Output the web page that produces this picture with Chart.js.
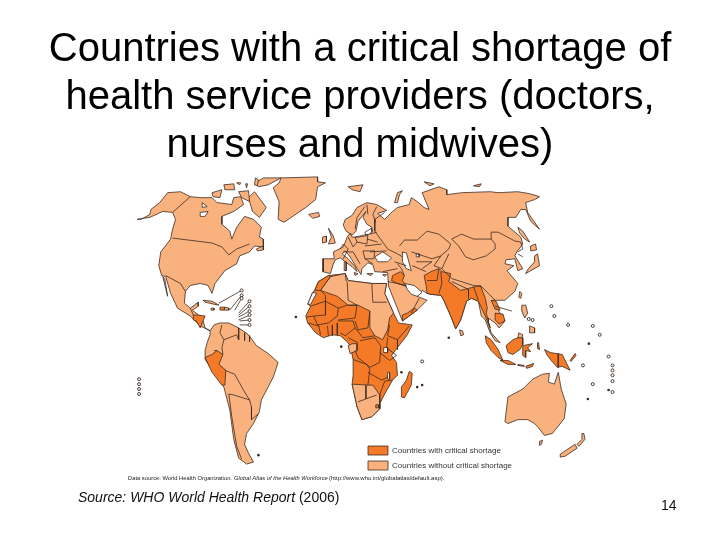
<!DOCTYPE html>
<html><head><meta charset="utf-8">
<script src="https://cdn.jsdelivr.net/npm/chart.js@4"></script>
<style>html,body{margin:0;padding:0;background:#fff}canvas{display:block}</style>
</head><body><canvas id="c" width="720" height="540"></canvas>
<script>
const titleLines=["Countries with a critical shortage of","health service providers (doctors,","nurses and midwives)"];
const legendCritical="Countries with critical shortage";
const legendOther="Countries without critical shortage";
const sourcePlain=["Source: WHO World Health Report "," (2006)"];
const pageNumber="14";
const creditParts=["Data source: World Health Organization.","Global Atlas of the Health Workforce","(http://www.who.int/globalatlas/default.asp)."];

// Map outlines, in map units
const northAmerica=[[134,220],[138,220],[147,215],[148,210],[157,203],[165,193],[178,192],[188,197],[198,198],[210,198],[215,203],[230,205],[232,198],[239,197],[242,205],[232,212],[220,217],[220,225],[228,232],[230,240],[235,228],[243,217],[252,220],[260,228],[258,238],[262,240],[262,248],[253,247],[248,253],[238,257],[235,265],[223,272],[213,285],[210,295],[206,287],[198,285],[188,287],[183,293],[182,305],[188,310],[196,304],[196,308],[190,312],[200,320],[203,330],[208,333],[198,328],[188,318],[175,310],[168,295],[163,278],[159,277],[156,267],[158,253],[168,240],[170,230],[173,220],[170,213],[160,212],[147,218],[134,220]];
const baja=[[160,278],[162,280],[165,298],[163,290],[160,278]];
const arcticIslands=[[[247,198],[253,192],[265,208],[258,218],[251,212],[247,198]],[[210,193],[220,190],[218,198],[211,197],[210,193]],[[222,185],[232,184],[233,190],[223,190],[222,185]],[[262,178],[280,178],[267,185],[257,187],[254,183],[262,178]],[[237,192],[247,191],[248,202],[240,198],[237,192]],[[254,178],[257,180],[256,186],[253,185],[254,178]],[[244,184],[246,184],[245,188],[244,184]],[[235,183],[239,183],[238,185],[235,183]],[[255,250],[262,247],[262,251],[256,252],[255,250]],[[348,187],[363,185],[360,192],[352,190],[348,187]],[[425,182],[435,184],[431,186],[425,182]],[[475,186],[483,184],[481,187],[475,186]],[[395,203],[398,193],[403,191],[400,195],[398,203],[395,203]],[[322,238],[326,237],[326,243],[322,244],[322,238]],[[328,229],[333,237],[335,244],[328,245],[331,238],[328,229]]];
const greenland=[[280,178],[317,177],[317,182],[325,183],[317,187],[315,200],[305,208],[283,223],[277,220],[278,202],[272,188],[278,183],[280,178]];
const iceland=[[308,215],[318,213],[319,217],[312,219],[308,215]];
const southAmerica=[[208,333],[212,327],[218,325],[227,325],[237,330],[247,337],[255,348],[267,356],[277,365],[272,380],[260,403],[258,415],[252,427],[245,437],[243,448],[247,457],[252,466],[245,468],[237,462],[232,443],[228,413],[222,390],[203,362],[203,353],[205,345],[208,337],[208,333]];
const eurasia=[[322,273],[322,260],[334,260],[333,253],[343,248],[347,238],[350,234],[352,238],[358,238],[365,237],[370,233],[372,228],[367,225],[363,218],[366,212],[358,222],[356,232],[352,236],[346,232],[343,226],[345,220],[352,216],[357,208],[367,203],[377,205],[387,211],[378,214],[385,220],[393,212],[398,208],[410,205],[412,198],[418,202],[425,208],[430,210],[423,193],[440,187],[448,190],[448,195],[463,193],[492,192],[500,193],[520,192],[532,194],[542,197],[537,200],[528,203],[530,213],[542,230],[533,222],[528,210],[523,210],[518,218],[510,218],[510,227],[523,238],[525,245],[519,253],[517,257],[525,270],[520,272],[517,260],[508,261],[507,265],[516,267],[509,272],[520,285],[517,293],[507,302],[495,302],[503,317],[507,323],[501,330],[497,325],[490,320],[490,325],[493,335],[502,345],[497,343],[492,335],[487,322],[483,318],[480,303],[473,300],[468,303],[462,322],[457,331],[452,318],[445,302],[442,297],[432,296],[428,295],[423,292],[418,298],[428,302],[418,312],[403,323],[395,303],[389,288],[388,274],[375,273],[373,266],[368,264],[362,270],[361,276],[356,268],[350,258],[345,252],[342,255],[348,260],[355,268],[357,273],[352,268],[345,263],[340,259],[335,261],[333,265],[330,275],[322,273]];
const japanEtc=[[[533,247],[538,245],[539,251],[533,252],[533,247]],[[540,255],[542,267],[533,272],[528,275],[530,271],[537,263],[537,257],[540,255]],[[520,228],[525,232],[532,243],[527,240],[522,234],[520,228]],[[522,293],[524,295],[523,300],[521,299],[522,293]],[[524,307],[528,307],[530,315],[527,320],[524,313],[524,307]],[[532,328],[537,330],[537,335],[532,335],[532,328]],[[461,332],[464,333],[465,337],[462,338],[461,332]],[[521,335],[525,337],[524,341],[520,340],[521,335]],[[354,274],[358,275],[355,277],[354,274]],[[344,263],[346,263],[346,272],[344,272],[344,263]],[[367,275],[373,275],[371,277],[367,275]],[[383,276],[387,276],[385,278],[383,276]],[[223,309],[227,310],[227,312],[222,312],[223,309]],[[201,302],[210,303],[217,307],[212,306],[203,304],[201,302]],[[209,310],[212,310],[212,312],[209,312],[209,310]]];
const australia=[[507,425],[510,400],[525,392],[535,382],[545,377],[552,376],[551,385],[557,387],[561,375],[564,392],[569,407],[567,422],[555,437],[547,439],[540,430],[537,427],[530,423],[520,423],[510,427],[507,425]];
const tasmania=[[542,445],[545,444],[544,448],[542,449],[542,445]];
const newZealand=[[[585,437],[587,437],[588,443],[582,450],[580,448],[585,443],[585,437]],[[578,448],[580,452],[568,460],[563,461],[563,458],[578,448]]];
const northAfricaLight=[[330,278],[345,275],[348,282],[372,285],[387,285],[385,295],[394,315],[390,320],[388,332],[383,342],[375,338],[370,330],[370,313],[358,307],[348,307],[337,298],[320,292],[330,278]];
const gabonCongo=[[348,348],[352,346],[357,346],[357,353],[350,356],[348,348]];
const southernAfrica=[[352,387],[368,388],[373,388],[380,398],[380,407],[380,412],[372,420],[362,423],[357,410],[352,387]];
const africa=[[318,283],[328,277],[345,275],[348,282],[372,285],[387,285],[385,295],[394,315],[399,325],[413,327],[408,337],[398,350],[392,358],[397,365],[398,378],[393,383],[385,397],[380,407],[380,412],[372,420],[362,423],[357,410],[352,387],[353,378],[353,362],[350,348],[347,344],[340,338],[332,337],[323,340],[315,335],[307,325],[305,318],[310,308],[307,306],[312,294],[314,292],[318,283]];
const madagascar=[[410,374],[413,376],[412,388],[405,401],[402,400],[402,390],[407,383],[410,374]];
const southAsia=[[425,277],[432,273],[440,270],[443,273],[452,275],[450,283],[462,292],[470,290],[482,287],[487,300],[489,310],[488,315],[492,330],[489,323],[487,318],[480,303],[473,300],[468,303],[462,322],[457,331],[452,318],[445,302],[442,297],[432,296],[428,295],[427,287],[425,277]];
const iraq=[[393,277],[401,273],[405,277],[403,282],[407,288],[398,285],[392,282],[393,277]];
const yemen=[[403,317],[408,315],[415,310],[418,312],[403,323],[403,317]];
const cambodiaLaos=[[[497,315],[505,316],[507,323],[501,326],[497,322],[497,315]],[[493,302],[498,303],[502,312],[497,311],[493,302]]];
const indonesia=[[[487,338],[493,342],[500,352],[505,363],[500,360],[493,353],[488,345],[487,338]],[[502,363],[510,363],[518,367],[510,367],[502,363]],[[508,348],[515,342],[520,340],[525,340],[525,347],[522,352],[515,357],[510,355],[508,348]],[[525,348],[535,346],[530,350],[533,354],[528,353],[528,360],[525,358],[525,348]],[[540,345],[541,345],[542,352],[540,351],[540,345]],[[520,367],[526,368],[526,369],[520,368],[520,367]],[[528,369],[536,366],[535,369],[529,371],[528,369]],[[547,352],[553,355],[565,357],[573,373],[565,369],[560,370],[553,362],[550,358],[547,352]],[[573,363],[578,356],[579,358],[574,364],[573,363]]];
const centralCritical=[[191,317],[196,317],[203,318],[200,325],[198,330],[194,323],[191,322],[191,317]];
const haiti=[[218,309],[223,309],[222,312],[218,312],[218,309]];
const morocco=[[314,292],[318,283],[328,277],[330,278],[320,292],[314,292]];
const peru=[[203,360],[210,357],[215,353],[221,357],[217,367],[224,373],[223,388],[220,388],[210,375],[203,360]];
const lesotho=[[376,408],[379,408],[379,411],[376,411],[376,408]];
const seas=[[[375,258],[383,253],[392,259],[388,263],[378,263],[375,258]],[[403,253],[407,254],[412,272],[407,270],[403,263],[403,253]],[[417,255],[420,255],[420,258],[417,258],[417,255]],[[405,285],[415,287],[423,294],[418,298],[412,296],[408,291],[405,285]],[[312,294],[316,295],[310,306],[307,306],[312,294]],[[200,203],[205,207],[200,208],[200,203]],[[198,213],[206,212],[203,217],[198,217],[198,213]],[[384,350],[388,350],[388,355],[384,355],[384,350]],[[388,375],[390,375],[390,382],[388,382],[388,375]],[[365,233],[372,229],[372,233],[366,237],[365,233]]];
const borderLines=[
[[188,197],[170,213]],[[170,239],[210,244],[220,248],[227,256],[235,250],[248,245]],[[163,277],[178,285],[183,293]],[[188,310],[191,317]],
[[220,327],[218,335],[222,342],[235,337],[237,342]],[[222,342],[220,350],[221,357]],[[237,330],[237,342]],[[243,335],[243,343]],[[248,338],[248,344]],[[223,373],[233,377],[243,395],[248,403],[250,410]],[[227,397],[232,398],[248,403]],[[227,397],[230,420],[235,450],[240,463]],[[250,423],[257,417]],[[250,410],[250,423]],[[212,353],[215,353]],
[[310,308],[325,303],[325,297],[320,292]],[[325,303],[325,317],[313,318]],[[325,303],[338,310],[337,318],[328,325],[317,327],[313,318]],[[338,310],[347,307],[357,307],[355,320],[338,322]],[[370,313],[368,330],[358,332],[355,323]],[[338,323],[353,323],[355,330],[345,338],[340,335]],[[355,330],[363,340],[375,338]],[[348,340],[358,345]],[[360,343],[375,340],[381,348],[380,365],[370,370],[358,360],[355,353]],[[353,362],[367,367],[370,372],[368,388]],[[368,375],[382,383],[388,380]],[[390,327],[388,338],[398,342],[410,328]],[[398,342],[398,352]],[[388,340],[387,350],[397,358]],[[380,355],[390,363],[397,358]],[[393,383],[385,384],[380,398]],[[306,319],[313,318]],[[307,325],[318,328]],[[318,327],[320,337]],[[327,328],[328,338]],[[332,327],[332,338]],[[337,325],[337,337]],
[[372,285],[373,304]],[[373,304],[387,304]],[[347,283],[348,302],[357,307]],[[345,275],[346,283]],[[366,388],[366,402],[358,405]],[[366,402],[377,398]],
[[428,282],[438,282],[440,270]],[[442,273],[443,285],[440,295]],[[453,283],[470,291]],[[470,291],[470,300]],[[475,288],[480,302]],
[[453,240],[463,235],[475,240],[493,240],[493,233],[500,233],[517,242],[523,243],[525,250],[520,253]],[[453,240],[460,247],[467,258],[475,261],[488,257],[497,250],[497,245],[493,240]],[[400,247],[405,241],[418,241],[428,232],[440,235],[452,245],[450,250],[442,257],[433,260],[427,258],[418,255],[412,253]],[[442,257],[435,267],[443,270]],[[450,255],[443,270]],[[417,263],[433,263],[423,270]],[[413,267],[427,273]],[[398,265],[402,270],[405,277]],[[388,283],[407,287]],[[383,273],[398,270]],[[443,270],[453,280],[475,287],[483,288],[497,302]],[[520,255],[525,258]],[[420,300],[412,315]],
[[385,213],[375,220],[375,232],[383,243],[388,250],[398,255],[403,258]],[[395,263],[407,267]],[[370,253],[387,252]],[[367,240],[378,243]],[[365,247],[382,245]],[[355,238],[368,235],[367,245],[357,243],[355,238]],[[348,238],[353,248],[357,243]],[[340,250],[343,245],[348,250],[343,260]],[[323,260],[323,273]],[[343,253],[353,253],[360,265]],[[363,252],[375,252],[374,260],[365,260],[363,252]],[[365,260],[373,265]],[[365,207],[357,218],[355,230]],[[367,205],[368,215]],[[377,207],[373,215],[376,223]],[[370,235],[377,233]],
[[561,356],[561,370]],[[514,313],[497,308]]];
const leaderLines=[[[217,305],[240,292]],[[228,312],[240,297]],[[233,312],[240,300]],[[237,315],[248,303]],[[237,317],[248,308]],[[237,319],[248,313]],[[237,322],[248,317]],[[238,323],[248,322]],[[238,327],[248,327]]];
const ringIslands=[[136,382],[136,387],[136,392],[136,397],[240,292],[240,297],[240,300],[248,303],[248,308],[248,313],[248,317],[248,322],[248,327],[554,308],[557,318],[571,327],[596,328],[603,337],[612,359],[586,368],[596,387],[616,368],[616,373],[616,378],[616,384],[616,395],[531,321],[535,322],[423,364]];
const dotIslands=[[295,319],[341,349],[450,340],[592,346],[402,375],[418,390],[423,388],[591,402],[257,459],[612,393]];

const ORANGE="#f47a28",LIGHT="#f9b17e",EDGE="#3d2b20";
const toPts=a=>a.map(([x,y])=>({x,y}));
const datasets=[];
function poly(a,fillCol,label){datasets.push({label:label||"",data:toPts(a),showLine:true,fill:"shape",backgroundColor:fillCol,borderColor:EDGE,borderWidth:0.8,pointRadius:0,tension:0});}
function line(a){datasets.push({label:"",data:toPts(a),showLine:true,fill:false,backgroundColor:"transparent",borderColor:EDGE,borderWidth:0.8,pointRadius:0,tension:0});}
poly(africa,ORANGE);
[northAmerica,baja,greenland,iceland,southAmerica,eurasia,australia,tasmania].forEach((a,i)=>poly(a,LIGHT,i==0?legendOther:""));
const lightIndex=1;
arcticIslands.forEach(a=>poly(a,LIGHT));japanEtc.forEach(a=>poly(a,LIGHT));newZealand.forEach(a=>poly(a,LIGHT));
[northAfricaLight,gabonCongo,southernAfrica].forEach(a=>poly(a,LIGHT));
seas.forEach(a=>poly(a,"#ffffff"));
const critIndex=datasets.length;
[madagascar,southAsia,iraq,yemen,centralCritical,haiti,morocco,peru,lesotho].forEach((a,i)=>poly(a,ORANGE,i==0?legendCritical:""));
cambodiaLaos.forEach(a=>poly(a,ORANGE));indonesia.forEach(a=>poly(a,ORANGE));
borderLines.forEach(line);leaderLines.forEach(line);
datasets.push({label:"",data:toPts(ringIslands),pointRadius:1.5,pointBackgroundColor:"#fff",pointBorderColor:EDGE,pointBorderWidth:0.9,showLine:false});
datasets.push({label:"",data:toPts(dotIslands),pointRadius:1.3,pointBackgroundColor:EDGE,pointBorderColor:EDGE,pointBorderWidth:0,showLine:false});
datasets.forEach((d,i)=>d.order=datasets.length-i);

const place={id:"place",afterLayout(c){const l=c.legend;const w=l.width,h=l.height;l.left=362;l.top=440;l.right=362+w;l.bottom=440+h;}};
const notes={id:"notes",afterDraw(c){const g=c.ctx;g.save();g.textBaseline="alphabetic";g.fillStyle="#111";
 const F='"Liberation Sans"';
 g.font="italic 14px "+F;g.fillText(sourcePlain[0],78,502);let w=g.measureText(sourcePlain[0]).width;
 g.font="14px "+F;g.fillText(sourcePlain[1].trim(),78+w,502);
 g.fillText(pageNumber,661,510);
 g.fillStyle="#222";g.font="5.8px "+F;g.fillText(creditParts[0],128,480);
 g.font="italic 5.8px "+F;g.fillText(creditParts[1],234,480);
 g.font="6px "+F;g.fillText(creditParts[2],329,480);g.restore();}};
new Chart(document.getElementById("c"),{type:"scatter",data:{datasets},plugins:[place,notes],options:{
 responsive:false,animation:false,devicePixelRatio:1,layout:{padding:0},
 scales:{x:{type:"linear",min:0,max:720,display:false},y:{type:"linear",min:170,max:540,reverse:true,display:false}},
 plugins:{tooltip:{enabled:false},
  title:{display:true,text:titleLines,color:"#000",font:{family:'"Liberation Sans"',size:40,weight:"normal",lineHeight:48/40},padding:{top:26,bottom:0}},
  legend:{position:"chartArea",align:"start",labels:{boxWidth:20,boxHeight:9,padding:6,color:"#333",font:{family:'"Liberation Sans"',size:8},
    filter:i=>i.datasetIndex===lightIndex||i.datasetIndex===critIndex,sort:(a,b)=>b.datasetIndex-a.datasetIndex}}}
}});
</script></body></html>
